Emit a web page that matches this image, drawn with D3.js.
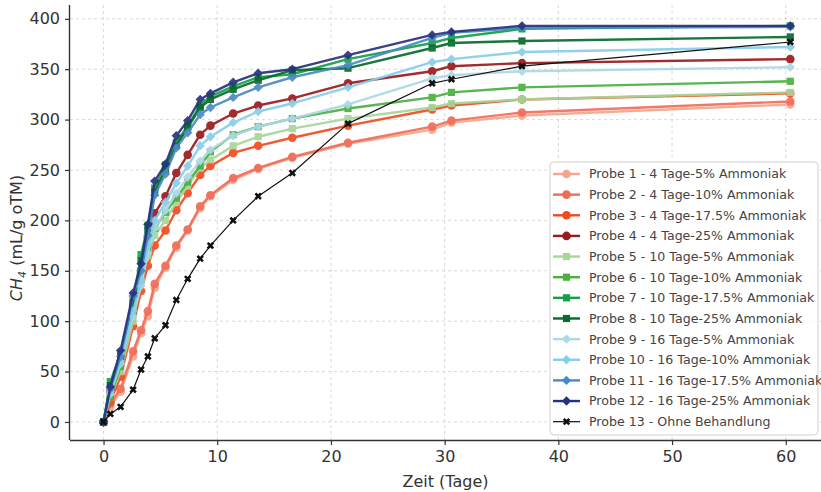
<!DOCTYPE html>
<html><head><meta charset="utf-8">
<script src="https://cdn.jsdelivr.net/npm/d3@7"></script>
<style>
body{margin:0;background:#fff;}
svg{display:block;font-family:"DejaVu Sans",sans-serif;}
</style></head>
<body>
<svg id="chart" width="821" height="492"></svg>
<script>
const days = [0, 0.6, 1.5, 2.6, 3.3, 3.9, 4.5, 5.45, 6.4, 7.4, 8.5, 9.4, 11.4, 13.6, 16.6, 21.5, 28.9, 30.6, 36.8, 60.4];

const probe1  = [0, 15, 30, 65, 88, 105, 133, 153, 173, 190, 212, 224, 240, 251, 262, 276, 290, 297, 304, 315];
const probe2  = [0, 18, 33, 70, 91, 110, 137, 155, 175, 191, 214, 225, 242, 252, 263, 277, 293, 299, 307, 318];
const probe3  = [0, 20, 45, 95, 130, 155, 175, 190, 210, 227, 245, 254, 267, 274, 282, 294, 310, 314, 320, 326];
const probe4  = [0, 30, 60, 115, 150, 183, 207, 224, 247, 265, 285, 294, 306, 314, 321, 336, 348, 353, 356, 360];
const probe5  = [0, 25, 50, 100, 140, 165, 185, 200, 218, 234, 252, 260, 274, 283, 291, 301, 312, 316, 320, 327];
const probe6  = [0, 25, 55, 108, 150, 172, 192, 208, 222, 238, 254, 268, 285, 293, 301, 311, 322, 327, 332, 338];
const probe7  = [0, 40, 68, 120, 166, 195, 232, 255, 277, 294, 314, 323, 333, 342, 345, 360, 376, 381, 390, 393];
const probe8  = [0, 36, 65, 118, 160, 190, 228, 250, 274, 292, 312, 320, 330, 339, 349, 351, 371, 376, 378, 382];
const probe9  = [0, 28, 58, 105, 135, 168, 192, 210, 227, 243, 259, 270, 284, 293, 301, 315, 341, 344, 348, 352];
const probe10 = [0, 30, 60, 110, 140, 175, 200, 218, 237, 254, 274, 283, 297, 308, 316, 332, 357, 360, 367, 372];
const probe11 = [0, 33, 65, 125, 150, 185, 225, 246, 272, 287, 305, 312, 322, 332, 342, 354, 381, 386, 391, 392];
const probe12 = [0, 35, 71, 128, 157, 196, 239, 256, 284, 299, 320, 326, 337, 346, 350, 364, 384, 387, 393, 393];
const probe13 = [0, 8, 15, 32, 52, 65, 83, 96, 121, 142, 162, 175, 200, 224, 247, 296, 336, 340, 353, 377];

const labels = [
  "Probe 1 - 4 Tage-5% Ammoniak",
  "Probe 2 - 4 Tage-10% Ammoniak",
  "Probe 3 - 4 Tage-17.5% Ammoniak",
  "Probe 4 - 4 Tage-25% Ammoniak",
  "Probe 5 - 10 Tage-5% Ammoniak",
  "Probe 6 - 10 Tage-10% Ammoniak",
  "Probe 7 - 10 Tage-17.5% Ammoniak",
  "Probe 8 - 10 Tage-25% Ammoniak",
  "Probe 9 - 16 Tage-5% Ammoniak",
  "Probe 10 - 16 Tage-10% Ammoniak",
  "Probe 11 - 16 Tage-17.5% Ammoniak",
  "Probe 12 - 16 Tage-25% Ammoniak",
  "Probe 13 - Ohne Behandlung"
];
const colors = ["#f6a68a","#ef6e5b","#f04d1f","#9a1b1e","#a8d59a","#4caf3f","#14a046","#076b2c","#add8e6","#87ceeb","#4a8ac4","#27327e","#111111"];
const markers = ["circle","circle","circle","circle","square","square","square","square","diamond","diamond","diamond","diamond","x"];
const xTicks = [0, 10, 20, 30, 40, 50, 60];
const yTicks = [0, 50, 100, 150, 200, 250, 300, 350, 400];

const seriesValues = [probe1, probe2, probe3, probe4, probe5, probe6, probe7, probe8, probe9, probe10, probe11, probe12, probe13];

const svg = d3.select("#chart");
const L = 70, R = 821, T = 5, B = 440;
const x = d3.scaleLinear().domain([-2.95, 63.1]).range([L, R]);
const y = d3.scaleLinear().domain([-17.9, 413.7]).range([B, T]);

// grid
const grid = svg.append("g");
grid.selectAll(".gx").data(xTicks).join("line")
  .attr("x1", d => x(d)).attr("x2", d => x(d)).attr("y1", T).attr("y2", B)
  .attr("stroke", "#cfcfcf").attr("stroke-width", 0.8).attr("stroke-dasharray", "3,3");
grid.selectAll(".gy").data(yTicks).join("line")
  .attr("x1", L).attr("x2", R).attr("y1", d => y(d)).attr("y2", d => y(d))
  .attr("stroke", "#cfcfcf").attr("stroke-width", 0.8).attr("stroke-dasharray", "3,3");

// axes
const xAxis = svg.append("g").attr("transform", `translate(0,${B})`)
  .call(d3.axisBottom(x).tickValues(xTicks).tickSize(5).tickPadding(6).tickFormat(d3.format("d")));
const yAxis = svg.append("g").attr("transform", `translate(${L},0)`)
  .call(d3.axisLeft(y).tickValues(yTicks).tickSize(5).tickPadding(5).tickFormat(d3.format("d")));
[xAxis, yAxis].forEach(a => {
  a.select(".domain").attr("stroke", "#333").attr("stroke-width", 1.4);
  a.selectAll(".tick line").attr("stroke", "#333").attr("stroke-width", 1.2);
  a.selectAll(".tick text").attr("fill", "#333").attr("font-size", 16).attr("font-family", "DejaVu Sans");
});
xAxis.select(".domain").attr("d", `M${L},0.5H${R}`);
yAxis.select(".domain").attr("d", `M-0.5,${T}V${B}`);

// axis labels
svg.append("text").attr("x", (L + R) / 2).attr("y", 487).attr("text-anchor", "middle")
  .attr("font-size", 16).attr("fill", "#333").text("Zeit (Tage)");
const yl = svg.append("text").attr("transform", "translate(22,238) rotate(-90)")
  .attr("text-anchor", "middle").attr("font-size", 16).attr("fill", "#333");
yl.append("tspan").attr("font-style", "italic").text("CH");
yl.append("tspan").attr("font-style", "italic").attr("font-size", 11).attr("dy", 4).text("4");
yl.append("tspan").attr("dy", -4).text(" (mL/g oTM)");

function symFor(m) {
  if (m === "circle") return d3.symbol(d3.symbolCircle, 58);
  if (m === "square") return d3.symbol(d3.symbolSquare, 52);
  if (m === "diamond") return d3.symbol(d3.symbolDiamond2, 56);
  return d3.symbol(d3.symbolCross, 34);
}

const line = d3.line().x((d, i) => x(days[i])).y(d => y(d));
seriesValues.forEach((vals, s) => {
  const g = svg.append("g").attr("opacity", s === 12 ? 1 : 0.92);
  g.append("path").datum(vals).attr("d", line).attr("fill", "none")
    .attr("stroke", colors[s]).attr("stroke-width", s === 12 ? 1.2 : 2.4).attr("stroke-linejoin", "round");
  g.selectAll("path.m").data(vals).join("path").attr("class", "m")
    .attr("d", symFor(markers[s])())
    .attr("transform", (d, i) => `translate(${x(days[i])},${y(d)})` + (markers[s] === "x" ? " rotate(45)" : ""))
    .attr("fill", colors[s]);
});

// legend
const lg = svg.append("g");
const lx = 550, ly = 162, lw = 268, lh = 273;
lg.append("rect").attr("x", lx).attr("y", ly).attr("width", lw).attr("height", lh).attr("rx", 4)
  .attr("fill", "#fff").attr("fill-opacity", 0.85).attr("stroke", "#d0d0d0").attr("stroke-width", 1);
labels.forEach((lab, s) => {
  const cy = 174 + s * 20.64;
  lg.append("line").attr("x1", 553).attr("x2", 580).attr("y1", cy).attr("y2", cy)
    .attr("stroke", colors[s]).attr("stroke-width", s === 12 ? 1.2 : 2.4);
  lg.append("path").attr("d", symFor(markers[s])())
    .attr("transform", `translate(566.5,${cy})` + (markers[s] === "x" ? " rotate(45)" : ""))
    .attr("fill", colors[s]);
  lg.append("text").attr("x", 589).attr("y", cy).attr("dy", "0.35em")
    .attr("font-size", 12.6).attr("fill", "#444").text(lab);
});
</script>
</body></html>
